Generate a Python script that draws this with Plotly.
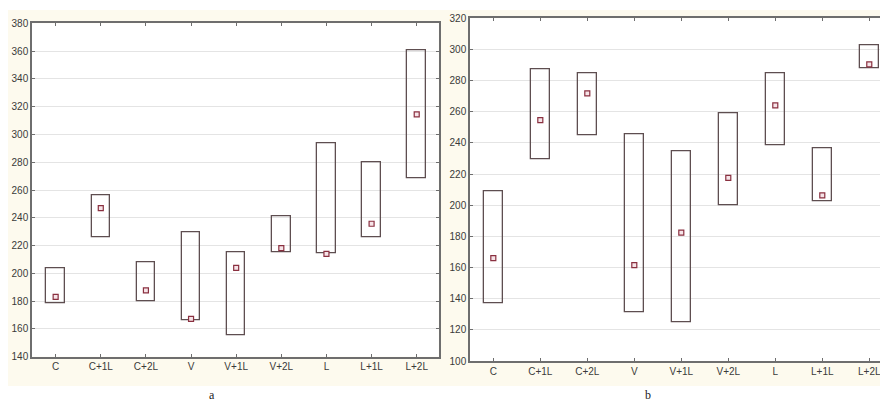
import plotly.graph_objects as go

categories = ["C", "C+1L", "C+2L", "V", "V+1L", "V+2L", "L", "L+1L", "L+2L"]

# Panel a
a_low = [178.1, 226.3, 180.0, 166.1, 155.5, 215.0, 214.3, 225.6, 268.5]
a_high = [203.3, 255.9, 207.8, 229.2, 215.0, 241.2, 293.5, 280.0, 360.7]
a_mean = [183.1, 247.0, 187.7, 167.3, 204.0, 218.2, 214.0, 235.7, 314.5]

# Panel b
b_low = [137.2, 229.3, 244.9, 131.0, 124.7, 200.0, 238.7, 202.8, 288.0]
b_high = [209.1, 287.5, 284.7, 245.4, 234.6, 258.9, 284.7, 236.6, 302.4]
b_mean = [166.0, 254.6, 271.8, 161.5, 182.4, 217.6, 264.1, 206.3, 290.4]

a_ticks = list(range(140, 381, 20))
b_ticks = list(range(100, 321, 20))

W, H = 880, 403
BOX_LINE = "#5e4e50"
MEAN_LINE = "#8a3040"
FONT = "Liberation Sans, Arial, sans-serif"
CREAM = "#fdfaee"

fig = go.Figure()

def add_panel(low, high, mean, xa, ya):
    idx = list(range(len(categories)))
    fig.add_trace(go.Bar(
        x=idx, y=[h - l for h, l in zip(high, low)], base=low, width=0.41,
        marker=dict(color="rgba(255,255,255,0)", line=dict(color=BOX_LINE, width=1.3)),
        xaxis=xa, yaxis=ya, showlegend=False, hoverinfo="skip"))
    fig.add_trace(go.Scatter(
        x=idx, y=mean, mode="markers",
        marker=dict(symbol="square", size=5, color="#f6e4e8",
                    line=dict(color=MEAN_LINE, width=1.2)),
        xaxis=xa, yaxis=ya, showlegend=False, cliponaxis=False))

add_panel(a_low, a_high, a_mean, "x", "y")
add_panel(b_low, b_high, b_mean, "x2", "y2")

axis_common = dict(
    showline=True, linecolor="#6e6e6e", linewidth=1.5,
    ticks="inside", ticklen=3, tickcolor="#6e6e6e", tickwidth=1,
    tickfont=dict(family=FONT, size=10, color="#3a3a3a"),
    zeroline=False, ticklabeloverflow="allow", automargin=False,
)

xa_common = dict(axis_common, tickmode="array",
                 tickvals=list(range(len(categories))), ticktext=categories,
                 showgrid=False)

white_strip = dict(type="rect", xref="paper", yref="paper", layer="below",
                   fillcolor="white", line=dict(width=0))

fig.update_layout(
    width=W, height=H, autosize=False,
    margin=dict(l=0, r=0, t=0, b=0, pad=0),
    paper_bgcolor=CREAM, plot_bgcolor="white",
    bargap=0,
    xaxis=dict(xa_common, domain=[32 / W, 438.7 / W], range=[-0.524, 8.487],
               mirror="ticks", anchor="y"),
    yaxis=dict(axis_common, domain=[1 - 356.7 / H, 1 - 23.3 / H], range=[140, 380],
               tickvals=a_ticks, showgrid=True, gridcolor="#e4e4e4", gridwidth=1,
               mirror="ticks", anchor="x"),
    xaxis2=dict(xa_common, domain=[470 / W, 1.0], range=[-0.496, 8.228],
                mirror="ticks", anchor="y2"),
    yaxis2=dict(axis_common, domain=[1 - 361 / H, 1 - 18.3 / H], range=[100, 320],
                tickvals=b_ticks, showgrid=True, gridcolor="#e4e4e4", gridwidth=1,
                mirror=False, anchor="x2"),
    shapes=[
        dict(white_strip, x0=0, x1=1, y0=1 - 10 / H, y1=1),
        dict(white_strip, x0=0, x1=1, y0=0, y1=1 - 386 / H),
        dict(white_strip, x0=0, x1=8 / W, y0=0, y1=1),
    ],
    annotations=[
        dict(text="a", xref="paper", yref="paper", x=207 / W, y=1 - 395 / H,
             yanchor="middle",
             showarrow=False, font=dict(family="Liberation Serif, serif", size=12, color="#222")),
        dict(text="b", xref="paper", yref="paper", x=653 / W, y=1 - 395 / H,
             yanchor="middle",
             showarrow=False, font=dict(family="Liberation Serif, serif", size=12, color="#222")),
    ],
)

fig.write_html("out.html",
               config=dict(displayModeBar=False, responsive=False),
               post_script="document.body.style.margin='0';document.body.style.overflow='hidden';")
